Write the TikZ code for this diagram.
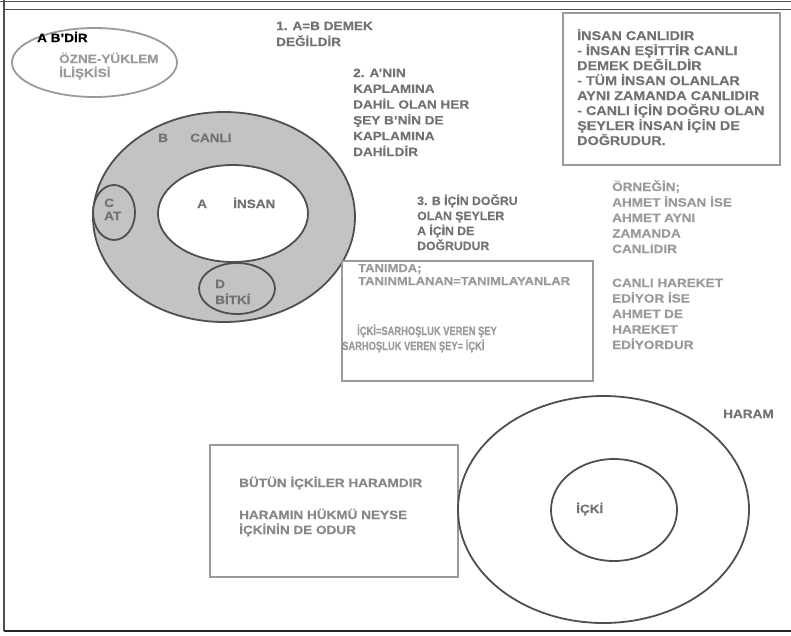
\documentclass[tikz,border=0pt]{standalone}
\usepackage{fontspec}
\setmainfont{Liberation Sans}[FakeStretch=1.13,FakeBold=0.4]
\newfontfamily\plainsans{Liberation Sans}[FakeStretch=1.02,FakeBold=0.4]
\newfontfamily\condsans{Liberation Sans}[FakeStretch=0.78,FakeBold=0.4]
\definecolor{inkdark}{HTML}{4F4F4F}
\definecolor{inkgray}{HTML}{727272}
\definecolor{inklight}{HTML}{9A9A9A}
\definecolor{boxgray}{HTML}{9A9A9A}
\definecolor{setfill}{HTML}{C3C3C3}
\begin{document}
\begin{tikzpicture}[x=1pt,y=-1pt,
  txt/.style={anchor=base west,inner sep=0pt,align=left,text=inkgray,
    font=\bfseries\fontsize{12}{15.5}\selectfont},
  pale/.style={txt,text=inklight},
  setline/.style={draw=inkdark,line width=1.8pt},
  boxline/.style={draw=boxgray,line width=1.8pt}]
\useasboundingbox (0,0) rectangle (791,635);
% frame
\draw[inkdark,line width=1pt] (0,1) -- (791,1);
\draw[inkdark,line width=1pt] (4,9) -- (791,9);
\draw[inkdark,line width=1.2pt] (4,0) -- (4,631);
\draw[black!85,line width=2.5pt] (4,631) -- (791,631);
% subject-predicate
\draw[boxline] (94.5,62.5) ellipse (82.5 and 34.5);
\node[txt,text=black] (abdir) at (37,42) {A B'DİR};
\node[pale,font=\bfseries\fontsize{12}{14}\selectfont] (ozne) at (59,77) {ÖZNE-YÜKLEM\\İLİŞKİSİ};
% canli sets
\draw[setline,fill=setfill] (224,217) ellipse (131 and 105);
\draw[setline,fill=white] (233,213.5) ellipse (75 and 48.5);
\draw[setline,fill=setfill] (114,212.5) ellipse (21 and 27.5);
\draw[setline,fill=setfill] (237,288.5) ellipse (38 and 25.5);
\node[txt] (b) at (158,142) {B};
\node[txt] (canli) at (190,142) {CANLI};
\node[txt] (a) at (197,208) {A};
\node[txt] (insan) at (233,208) {İNSAN};
\node[txt,font=\bfseries\fontsize{12}{13}\selectfont] (c) at (104,220) {C\\AT};
\node[txt,font=\bfseries\fontsize{12}{16}\selectfont] (d) at (215,304) {D\\BİTKİ};
% rules
\node[txt,font=\bfseries\fontsize{12}{16}\selectfont] (bir) at (276,46) {1. A=B DEMEK\\DEĞİLDİR};
\node[txt,font=\bfseries\fontsize{12}{15.8}\selectfont] (iki) at (353,156) {2. A'NIN\\KAPLAMINA\\DAHİL OLAN HER\\ŞEY B'NİN DE\\KAPLAMINA\\DAHİLDİR};
\node[txt,font=\plainsans\bfseries\fontsize{12}{15}\selectfont] (uc) at (417,250) {3. B İÇİN DOĞRU\\OLAN ŞEYLER\\A İÇİN DE\\DOĞRUDUR};
% summary box
\draw[boxline] (563,13) rectangle (780,165);
\node[txt,font=\bfseries\fontsize{12.7}{15}\selectfont] (ozet) at (577,145)
  {İNSAN CANLIDIR\\- İNSAN EŞİTTİR CANLI\\DEMEK DEĞİLDİR\\- TÜM İNSAN OLANLAR\\AYNI ZAMANDA CANLIDIR\\- CANLI İÇİN DOĞRU OLAN\\ŞEYLER İNSAN İÇİN DE\\DOĞRUDUR.};
% example
\node[pale] (ornek) at (612,253) {ÖRNEĞİN;\\AHMET İNSAN İSE\\AHMET AYNI\\ZAMANDA\\CANLIDIR};
\node[pale] (hareket) at (612,349) {CANLI HAREKET\\EDİYOR İSE\\AHMET DE\\HAREKET\\EDİYORDUR};
% definition box
\draw[boxline] (342,261) rectangle (593,381);
\node[pale,font=\bfseries\fontsize{11.5}{13}\selectfont] (tanim) at (358,285) {TANIMDA;\\TANINMLANAN=TANIMLAYANLAR};
\node[pale,font=\condsans\bfseries\fontsize{12}{15}\selectfont] (icki1) at (357,335) {İÇKİ=SARHOŞLUK VEREN ŞEY};
\node[pale,font=\condsans\bfseries\fontsize{12}{15}\selectfont] (icki2) at (342,350) {SARHOŞLUK VEREN ŞEY= İÇKİ};
% haram
\draw[boxline] (210,445) rectangle (458,577);
\node[txt,text=inkgray!85] (butun) at (239,487) {BÜTÜN İÇKİLER HARAMDIR};
\node[txt,text=inkgray!85,font=\bfseries\fontsize{12}{15}\selectfont] (hukum) at (239,534) {HARAMIN HÜKMÜ NEYSE\\İÇKİNİN DE ODUR};
\draw[setline] (603.5,509.5) ellipse (145.5 and 113.5);
\draw[setline] (614,510) ellipse (63 and 51);
\node[txt] (icki) at (576,513) {İÇKİ};
\node[txt] (haram) at (723,418) {HARAM};
\end{tikzpicture}
\end{document}
